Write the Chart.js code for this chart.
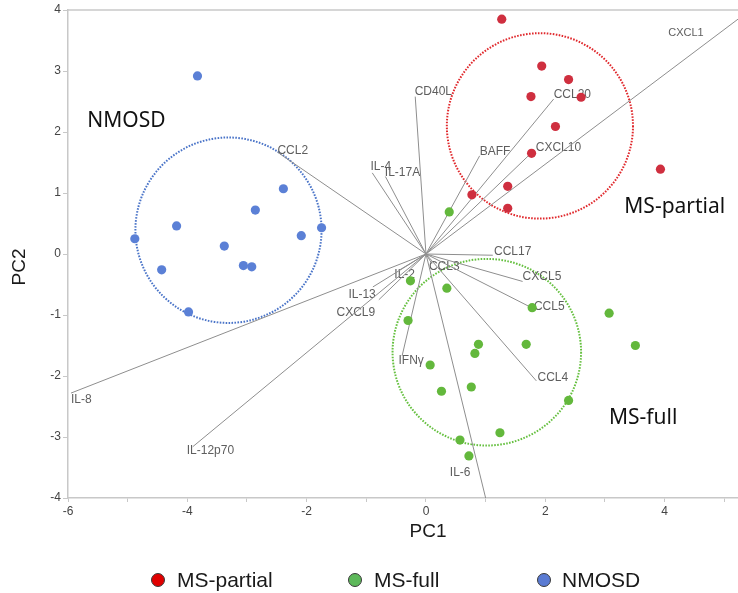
<!DOCTYPE html>
<html>
<head>
<meta charset="utf-8">
<script src="https://cdn.jsdelivr.net/npm/chart.js@4.4.0/dist/chart.umd.min.js"></script>
<style>
html,body{margin:0;padding:0;background:#fff;}
#wrap{position:relative;width:738px;height:593px;overflow:hidden;}
#c{position:absolute;left:0;top:0;}
.ldot{position:absolute;width:14px;height:14px;border-radius:50%;box-sizing:border-box;border:1px solid #3a3a3a;}
.ltxt{position:absolute;font-family:"Liberation Sans",Arial,sans-serif;font-size:21px;line-height:24px;color:#1a1a1a;white-space:nowrap;}
</style>
</head>
<body>
<div id="wrap"><canvas id="c" width="738" height="593"></canvas><div id="legend"></div></div>
<script>
// ---- data ----
const groupNames = ['MS-partial', 'MS-full', 'NMOSD'];

const msPartialX = [1.27, 1.94, 2.39, 1.76, 2.60, 2.17, 1.77, 3.93, 1.37, 0.77, 1.37];
const msPartialY = [3.85, 3.08, 2.86, 2.58, 2.57, 2.09, 1.65, 1.39, 1.11, 0.97, 0.75];

const msFullX = [0.39, -0.26, 0.35, 1.78, 3.07, -0.30, 3.51, 0.88, 1.68, 0.82, 0.07, 0.26, 0.76, 2.39, 1.24, 0.57, 0.72];
const msFullY = [0.69, -0.44, -0.56, -0.88, -0.97, -1.09, -1.50, -1.48, -1.48, -1.63, -1.82, -2.25, -2.18, -2.40, -2.93, -3.05, -3.31];

const nmosdX = [-3.83, -2.39, -2.86, -4.18, -1.75, -2.09, -4.88, -3.38, -4.43, -3.06, -2.92, -3.98];
const nmosdY = [2.92, 1.07, 0.72, 0.46, 0.43, 0.30, 0.25, 0.13, -0.26, -0.19, -0.21, -0.95];

// loading vectors (end points, from origin)
const loadingNames = ['CXCL1','CD40L','CCL20','BAFF','CXCL10','IL-4','IL-17A','CCL2','CCL17','CCL3',
                      'CXCL5','CCL5','CCL4','IL-6','IFNγ','IL-2','IL-13','CXCL9','IL-8','IL-12p70'];
const loadingX = [5.23, -0.18, 2.14, 0.90, 1.77, -0.90, -0.68, -2.49, 1.12, 0.10,
                  1.62, 1.77, 1.85, 1.00, -0.40, -0.44, -0.89, -0.79, -5.95, -3.91];
const loadingY = [3.85, 2.58, 2.54, 1.61, 1.66, 1.33, 1.27, 1.67, -0.02, -0.16,
                  -0.45, -0.88, -2.08, -4.00, -1.67, -0.26, -0.54, -0.75, -2.28, -3.16];
// label anchors (data units, text left edge / vertical middle)
const loadingLabelX = [4.06, -0.19, 2.14, 0.90, 1.84, -0.93, -0.69, -2.49, 1.14, 0.05,
                       1.62, 1.81, 1.87, 0.40, -0.46, -0.53, -1.30, -1.50, -5.95, -4.01];
const loadingLabelY = [3.62, 2.66, 2.61, 1.67, 1.74, 1.43, 1.33, 1.70, 0.03, -0.21,
                       -0.38, -0.87, -2.03, -3.59, -1.75, -0.34, -0.67, -0.97, -2.39, -3.23];

// group ellipses (centre, radii in data units) in order MS-partial, MS-full, NMOSD
const ellipseCX = [1.91, 1.02, -3.31];
const ellipseCY = [2.10, -1.61, 0.39];
const ellipseRX = [1.56, 1.58, 1.56];
const ellipseRY = [1.52, 1.53, 1.52];

// group text labels (centre)
const groupLabelX = [4.17, 3.64, -5.02];
const groupLabelY = [0.77, -2.69, 2.18];

const xTickLabels = [-6, -4, -2, 0, 2, 4];
const yTickLabels = [-4, -3, -2, -1, 0, 1, 2, 3, 4];

// ---- styles ----
const pointColors = ['#cf2f3f', '#63b83c', '#5b80d6'];
const ellipseColors = ['#e0282c', '#66c040', '#4a74c8'];
const legendColors = ['#e00000', '#5db85a', '#5a7bd3'];
const FONT = '"Liberation Sans", Arial, sans-serif';

function pts(xs, ys) { return xs.map((x, i) => ({x: x, y: ys[i]})); }

const datasets = [
  {type:'scatter', label:groupNames[0], data:pts(msPartialX, msPartialY), backgroundColor:pointColors[0], borderWidth:0, pointRadius:4.6, order:0},
  {type:'scatter', label:groupNames[1], data:pts(msFullX, msFullY), backgroundColor:pointColors[1], borderWidth:0, pointRadius:4.6, order:0},
  {type:'scatter', label:groupNames[2], data:pts(nmosdX, nmosdY), backgroundColor:pointColors[2], borderWidth:0, pointRadius:4.6, order:0}
];
loadingNames.forEach((n, i) => {
  datasets.push({type:'line', label:n, data:[{x:0, y:0}, {x:loadingX[i], y:loadingY[i]}],
    borderColor:'#8e8e8e', borderWidth:1, pointRadius:0, fill:false, tension:0, order:1});
});

const annot = {
  id: 'annot',
  beforeDatasetsDraw(chart) {
    const {ctx, chartArea: ca, scales: {x, y}} = chart;
    ctx.save();
    ctx.beginPath();
    ctx.rect(ca.left, ca.top, ca.right - ca.left, ca.bottom - ca.top);
    ctx.clip();
    // ellipses
    for (let i = 0; i < ellipseCX.length; i++) {
      const cx = x.getPixelForValue(ellipseCX[i]);
      const cy = y.getPixelForValue(ellipseCY[i]);
      const rx = Math.abs(x.getPixelForValue(ellipseCX[i] + ellipseRX[i]) - cx);
      const ry = Math.abs(y.getPixelForValue(ellipseCY[i] + ellipseRY[i]) - cy);
      ctx.beginPath();
      ctx.ellipse(cx, cy, rx, ry, 0, 0, Math.PI * 2);
      ctx.setLineDash([1.6, 1.4]);
      ctx.lineWidth = 2;
      ctx.strokeStyle = ellipseColors[i];
      ctx.stroke();
    }
    ctx.setLineDash([]);
    // loading labels
    ctx.fillStyle = '#5e5e5e';
    ctx.textAlign = 'left';
    ctx.textBaseline = 'middle';
    loadingNames.forEach((n, i) => {
      ctx.font = (n === 'CXCL1' ? '11px ' : '12px ') + FONT;
      ctx.fillText(n, x.getPixelForValue(loadingLabelX[i]), y.getPixelForValue(loadingLabelY[i]));
    });
    // group labels
    ctx.font = '21px "Noto Sans", "Open Sans", sans-serif';
    ctx.fillStyle = '#111';
    ctx.textAlign = 'center';
    groupNames.forEach((n, i) => {
      ctx.fillText(n, x.getPixelForValue(groupLabelX[i]), y.getPixelForValue(groupLabelY[i]));
    });
    ctx.restore();

    // top frame line
    ctx.save();
    ctx.strokeStyle = '#c8c8c8';
    ctx.lineWidth = 1.5;
    ctx.beginPath();
    ctx.moveTo(ca.left, ca.top);
    ctx.lineTo(chart.width, ca.top);
    ctx.stroke();
    // axis titles
    ctx.fillStyle = '#1a1a1a';
    ctx.font = '19px ' + FONT;
    ctx.textAlign = 'center';
    ctx.textBaseline = 'middle';
    ctx.fillText('PC1', x.getPixelForValue(0) + 2, 532);
    ctx.translate(20, 267);
    ctx.rotate(-Math.PI / 2);
    ctx.fillText('PC2', 0, 0);
    ctx.restore();
  }
};

new Chart(document.getElementById('c'), {
  data: {datasets: datasets},
  options: {
    responsive: false,
    animation: false,
    layout: {autoPadding: false, padding: {top: 10, right: 0, left: 0, bottom: 0}},
    plugins: {legend: {display: false}, tooltip: {enabled: false}},
    scales: {
      x: {
        type: 'linear', position: 'bottom', min: -6, max: 5.23,
        ticks: {stepSize: 1, includeBounds: false, autoSkip: false, maxRotation: 0, padding: 2,
          color: '#444', font: {family: FONT, size: 12},
          callback: (v) => xTickLabels.includes(v) ? String(v) : ''},
        grid: {drawOnChartArea: false, drawTicks: true, tickLength: 4, color: '#c8c8c8', lineWidth: 1},
        border: {display: true, color: '#c8c8c8', width: 1.5},
        afterFit(s) { s.height = 95; s.paddingRight = 0; s.paddingLeft = 0; }
      },
      y: {
        type: 'linear', position: 'left', min: -4, max: 4,
        ticks: {stepSize: 1, padding: 2, color: '#444', font: {family: FONT, size: 12},
          callback: (v) => yTickLabels.includes(v) ? String(v) : ''},
        grid: {drawOnChartArea: false, drawTicks: true, tickLength: 5, color: '#c8c8c8', lineWidth: 1},
        border: {display: true, color: '#c8c8c8', width: 1.5},
        afterFit(s) { s.width = 68; }
      }
    }
  },
  plugins: [annot]
});

// HTML legend
const legendDotX = [158, 355, 544];
const legendTextX = [177, 374, 562];
const lg = document.getElementById('legend');
groupNames.forEach((n, i) => {
  const d = document.createElement('span');
  d.className = 'ldot';
  d.style.left = (legendDotX[i] - 7) + 'px';
  d.style.top = (580 - 7) + 'px';
  d.style.background = legendColors[i];
  lg.appendChild(d);
  const t = document.createElement('span');
  t.className = 'ltxt';
  t.style.left = legendTextX[i] + 'px';
  t.style.top = (580 - 12) + 'px';
  t.textContent = n;
  lg.appendChild(t);
});
</script>
</body>
</html>
